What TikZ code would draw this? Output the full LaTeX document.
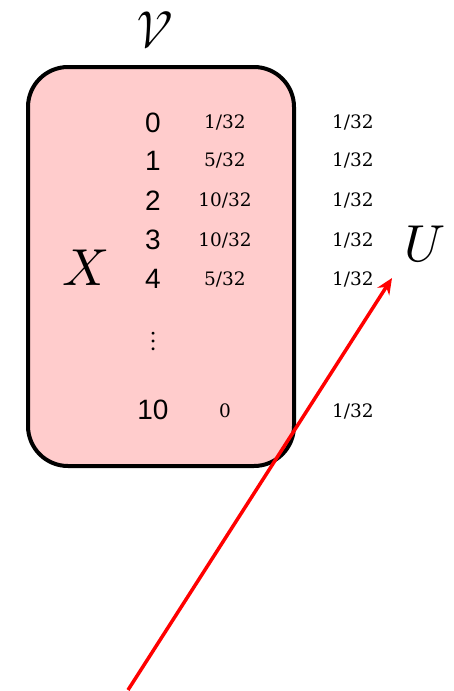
\documentclass[tikz,border=0pt]{standalone}
\usepackage{fontspec}
\usepackage{unicode-math}
\setmathfont{Latin Modern Math}
\newfontfamily\digitfont{Liberation Sans}
\newfontfamily\fracfont{DejaVu Serif}
\usetikzlibrary{arrows.meta}
\tikzstyle{urn} = [
    rectangle,
    rounded corners=40pt,
    minimum width=266pt,
    minimum height=399pt,
    line width=4pt,
    draw=black,
    fill=red!20
]
\tikzstyle{value} = [font=\digitfont\fontsize{28}{32}\selectfont]
\tikzstyle{prob} = [font=\fracfont\fontsize{18.5}{22}\selectfont]
\tikzstyle{bigsym} = [font=\fontsize{52}{58}\selectfont]
\tikzstyle{arrow} = [red, line width=3.5pt, -{Stealth[length=16pt, width=14pt]}]
\begin{document}
\begin{tikzpicture}[x=1pt, y=-1pt]
\useasboundingbox (0,0) rectangle (454,691);

\node (box) [urn] at (161,266.5) {};

\node (setname) [bigsym] at (155,30) {$\mathcal{V}$};
\node (xvar) [bigsym] at (85,268) {$X$};
\node (uvar) [bigsym] at (425,244) {$U$};

\node (v0) [value] at (153,123) {0};
\node (v1) [value] at (153,161) {1};
\node (v2) [value] at (153,201) {2};
\node (v3) [value] at (153,240) {3};
\node (v4) [value] at (153,279) {4};
\node (vdots) [value] at (154,341) {$\vdots$};
\node (v10) [value] at (153,410) {10};

\node (p0) [prob] at (225,122) {1/32};
\node (p1) [prob] at (225,160) {5/32};
\node (p2) [prob] at (225,200) {10/32};
\node (p3) [prob] at (225,240) {10/32};
\node (p4) [prob] at (225,279) {5/32};
\node (p10) [prob] at (225,411) {0};

\node (u0) [prob] at (353,122) {1/32};
\node (u1) [prob] at (353,160) {1/32};
\node (u2) [prob] at (353,200) {1/32};
\node (u3) [prob] at (353,240) {1/32};
\node (u4) [prob] at (353,279) {1/32};
\node (u10) [prob] at (353,411) {1/32};

\coordinate (tail) at (128,690);
\coordinate (tip) at (392,278);
\draw [arrow] (tail) -- (tip);

\end{tikzpicture}
\end{document}
